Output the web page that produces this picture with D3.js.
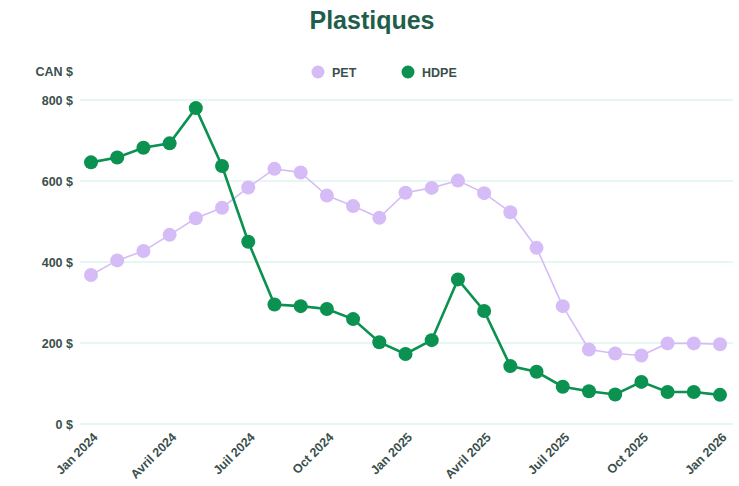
<!DOCTYPE html>
<html>
<head>
<meta charset="utf-8">
<script src="https://cdn.jsdelivr.net/npm/d3@7"></script>
<style>
  body { margin: 0; background: #fff; }
  text { font-family: "Liberation Sans", Arial, sans-serif; }
</style>
</head>
<body>
<div id="chart"></div>
<script>
(function () {

  // months, Jan 2024 .. Jan 2026
  var months = ['2024-01','2024-02','2024-03','2024-04','2024-05','2024-06','2024-07','2024-08','2024-09','2024-10','2024-11','2024-12',
                '2025-01','2025-02','2025-03','2025-04','2025-05','2025-06','2025-07','2025-08','2025-09','2025-10','2025-11','2025-12','2026-01']

  var petValues = [368, 404, 427, 467, 508, 534, 584, 630, 621, 564, 538, 509,
                   571, 583, 601, 570, 523, 435, 291, 184, 174, 169, 199, 199, 197]

  var hdpeValues = [646, 658, 682, 693, 780, 637, 450, 295, 291, 284, 259, 202,
                    173, 207, 357, 279, 143, 129, 92, 81, 73, 104, 79, 79, 72]

  var yTicks = [0, 200, 400, 600, 800]
  var xTickMonths = ['2024-01','2024-04','2024-07','2024-10','2025-01','2025-04','2025-07','2025-10','2026-01']
  var xTickLabels = ['Jan 2024','Avril 2024','Juil 2024','Oct 2024','Jan 2025','Avril 2025','Juil 2025','Oct 2025','Jan 2026']

  var series = [
    { name: 'PET', values: petValues, color: '#d5bcf6', width: 1.6 },
    { name: 'HDPE', values: hdpeValues, color: '#0b9150', width: 2.6 }
  ]

  var W = 739, H = 486
  var margin = { top: 100, right: 6, bottom: 62, left: 80 }
  var width = W - margin.left - margin.right,
      height = H - margin.top - margin.bottom

  var svg = d3.select("#chart").append("svg")
      .attr("width", W)
      .attr("height", H)

  var g = svg.append("g")
      .attr("transform", "translate(" + margin.left + "," + margin.top + ")")

  const xScale = d3.scalePoint()
    .domain(months)
    .range([11, 640])

  const yScale = d3.scaleLinear()
    .domain([0, 800])
    .range([height, 0])

  var labelColor = '#3a4f4c'

  // title
  svg.append("text")
    .attr("x", 372)
    .attr("y", 29)
    .attr("text-anchor", "middle")
    .attr("font-size", "25px")
    .attr("font-weight", "bold")
    .attr("fill", "#1f5e4b")
    .text("Plastiques")

  // unit label
  svg.append("text")
    .attr("x", 73)
    .attr("y", 76)
    .attr("text-anchor", "end")
    .attr("font-size", "12.5px")
    .attr("font-weight", "bold")
    .attr("fill", labelColor)
    .text("CAN $")

  // gridlines
  g.selectAll('.grid')
    .data(yTicks)
    .join('line')
    .attr('class', 'grid')
    .attr('x1', 0)
    .attr('x2', width)
    .attr('y1', d => yScale(d))
    .attr('y2', d => yScale(d))
    .attr('stroke', '#cdeee3')
    .attr('stroke-width', 1.2)

  // y labels
  var yAxis = d3.axisLeft(yScale).tickValues(yTicks).tickSize(0).tickPadding(7).tickFormat(d => d + ' $')
  g.append("g")
    .attr("class", "axis y-axis")
    .call(yAxis)
    .call(s => s.select('.domain').remove())
    .selectAll('text')
      .attr('font-size', '12.5px')
      .attr('font-weight', 'bold')
      .attr('fill', labelColor)
      .style('font-family', '"Liberation Sans", Arial, sans-serif')

  // x labels
  var labelMap = {}
  xTickMonths.forEach((m, i) => { labelMap[m] = xTickLabels[i] })
  var xAxis = d3.axisBottom(xScale).tickValues(xTickMonths).tickSize(0).tickFormat(d => labelMap[d])
  g.append("g")
    .attr("class", "axis x-axis")
    .attr("transform", "translate(0," + height + ")")
    .call(xAxis)
    .call(s => s.select('.domain').remove())
    .selectAll('text')
      .attr('font-size', '12.5px')
      .attr('font-weight', 'bold')
      .attr('fill', labelColor)
      .style('font-family', '"Liberation Sans", Arial, sans-serif')
      .attr('text-anchor', 'end')
      .attr('dx', 0)
      .attr('dy', 0)
      .attr('y', 0)
      .attr('transform', 'translate(7,14) rotate(-45)')

  // lines and dots
  var line = d3.line()
    .x((d, i) => xScale(months[i]))
    .y(d => yScale(d))

  series.forEach(function (s) {
    g.append('path')
      .datum(s.values)
      .attr('fill', 'none')
      .attr('stroke', s.color)
      .attr('stroke-width', s.width)
      .attr('d', line)

    g.append('g').selectAll('circle')
      .data(s.values)
      .join('circle')
      .attr('cx', (d, i) => xScale(months[i]))
      .attr('cy', d => yScale(d))
      .attr('r', 7)
      .attr('fill', s.color)
  })

  // legend
  var legendX = [318, 408]
  var legend = svg.append('g')
  legend.selectAll('circle')
    .data(series)
    .join('circle')
    .attr('cx', (d, i) => legendX[i])
    .attr('cy', 72)
    .attr('r', 6.5)
    .attr('fill', d => d.color)

  legend.selectAll('text')
    .data(series)
    .join('text')
    .attr('x', (d, i) => legendX[i] + 14)
    .attr('y', 76.5)
    .attr('font-size', '12.5px')
    .attr('font-weight', 'bold')
    .attr('fill', labelColor)
    .text(d => d.name)

})();
</script>
</body>
</html>
